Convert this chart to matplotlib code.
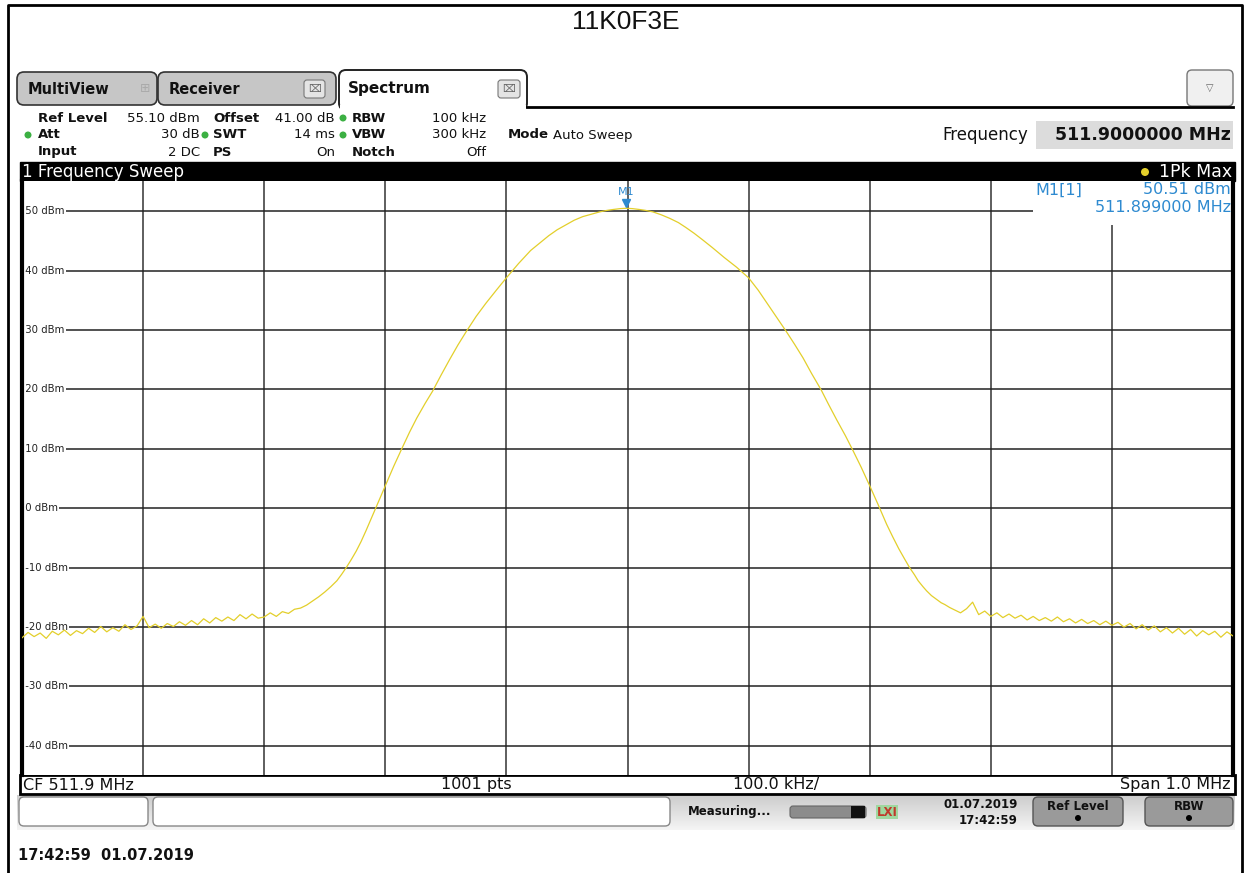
import numpy as np
import matplotlib.pyplot as plt
from matplotlib.patches import Rectangle, FancyBboxPatch, Circle
from matplotlib.transforms import ScaledTranslation

# === Data ===
center_mhz = 511.9
span_mhz = 1.0
ref_level = 55.1
db_per_div = 10
level_ticks = [50, 40, 30, 20, 10, 0, -10, -20, -30, -40]

# noise floor left of the carrier (offset in kHz, level in dBm)
floor_left_khz = np.arange(-500, -274, 5)
floor_left_dbm = [-21.8, -20.9, -21.6, -21.0, -21.9, -20.7, -21.3, -20.5, -21.4, -20.6,
                  -21.1, -20.2, -20.9, -19.9, -20.8, -20.1, -20.7, -19.6, -20.4, -19.8,
                  -18.2, -20.1, -19.5, -20.2, -19.4, -19.9, -19.1, -19.7, -18.9, -19.6,
                  -18.6, -19.3, -18.4, -19.0, -18.3, -18.9, -17.9, -18.6, -17.8, -18.5,
                  -18.3, -17.6, -18.2, -17.4, -17.7, -17.0]

# modulated carrier
skirt_khz = [-270, -265, -260, -255, -250, -245, -240, -236, -232, -228, -224, -220,
             -216, -212, -208, -204, -200, -193, -186, -180, -174, -167, -161, -154,
             -147, -140, -133, -125, -117, -108, -100, -90, -80, -71, -65, -58, -51,
             -44, -37, -30, -23, -17, -12, -6, -1, 4, 10, 15, 21, 28, 35, 42, 48, 55,
             62, 70, 80, 90, 100, 108, 115, 123, 131, 138, 145, 152, 160, 166, 173,
             180, 186, 193, 200, 207, 214, 219, 224, 229, 233, 237, 240, 244, 247,
             251, 255, 259, 262, 266, 269]
skirt_dbm = [-16.8, -16.3, -15.6, -14.9, -14.1, -13.2, -12.2, -11.1, -9.9, -8.6, -7.2,
             -5.6, -3.8, -1.9, 0.0, 1.9, 3.8, 7.1, 10.2, 12.8, 15.2, 17.7, 19.7, 22.4,
             25.0, 27.5, 29.8, 32.3, 34.5, 36.8, 38.8, 41.2, 43.4, 44.9, 45.9, 46.9,
             47.7, 48.5, 49.1, 49.5, 49.9, 50.15, 50.3, 50.45, 50.51, 50.45, 50.3,
             50.15, 49.9, 49.4, 48.8, 48.1, 47.3, 46.3, 45.2, 43.9, 42.2, 40.6, 38.8,
             36.7, 34.6, 32.2, 29.8, 27.6, 25.3, 22.7, 19.9, 17.5, 14.8, 12.2, 9.8,
             6.9, 3.8, 0.6, -2.7, -4.8, -6.8, -8.6, -10.0, -11.2, -12.2, -13.2, -13.9,
             -14.7, -15.3, -15.9, -16.2, -16.7, -17.0]

# noise floor right of the carrier
floor_right_khz = np.arange(275, 501, 5)
floor_right_dbm = [-17.6, -16.9, -15.8, -17.9, -17.3, -18.2, -17.6, -18.4, -17.8, -18.5,
                   -18.0, -18.8, -18.2, -18.9, -18.4, -19.0, -18.3, -19.1, -18.6, -19.3,
                   -18.7, -19.4, -18.9, -19.6, -19.0, -19.7, -19.2, -20.0, -19.4, -20.3,
                   -19.6, -20.5, -19.8, -20.8, -20.1, -21.0, -20.2, -21.2, -20.4, -21.5,
                   -20.6, -21.3, -20.7, -21.7, -20.8, -21.5]

mk_freq = 511.899
mk_level = 50.51

# === Figure ===
W, H = 1245, 873
UI = 'DejaVu Sans'
YEL = '#e3cf2b'
BLUE = '#2e8ad0'
GREEN = '#3cb043'

fig = plt.figure(figsize=(W / 100, H / 100), dpi=100)
bg = fig.add_axes([0, 0, 1, 1])
bg.set_xlim(0, W)
bg.set_ylim(H, 0)
bg.axis('off')


def rbox(x, y, w, h, fc, ec='#444444', lw=1.0, r=6, z=1):
    bg.add_patch(FancyBboxPatch((x, y), w, h, boxstyle=f'round,pad=0,rounding_size={r}',
                                fc=fc, ec=ec, lw=lw, zorder=z))


def txt(x, y, s, size=9.5, ha='left', bold=False, color='#111111', family=UI, z=5):
    bg.text(x, y, s, fontsize=size, ha=ha, va='center', color=color, family=family,
            fontweight='bold' if bold else 'normal', zorder=z)


# page border and title
bg.plot([8, 8, 1242, 1242], [873, 5, 5, 873], color='black', lw=2)
txt(626, 22, '11K0F3E', size=19, ha='center', family='Liberation Sans')

# tabs
rbox(17, 72, 140, 33, '#c6c6c6', ec='#333333', lw=1.2, r=7)
txt(28, 90, 'MultiView', size=10.5, bold=True)
txt(145, 89, '\u229e', size=9, ha='center', color='#aaaaaa')
rbox(158, 72, 178, 33, '#c6c6c6', ec='#333333', lw=1.2, r=7)
txt(169, 90, 'Receiver', size=10.5, bold=True)
rbox(304, 80, 21, 18, '#e4e4e4', ec='#777777', lw=0.8, r=3, z=2)
txt(314.5, 89, '\u2327', size=8, ha='center', color='#666666')
rbox(339, 70, 188, 40, 'white', ec='#222222', lw=1.4, r=7)
txt(348, 88, 'Spectrum', size=11, bold=True)
rbox(498, 80, 22, 18, '#e4e4e4', ec='#777777', lw=0.8, r=3, z=2)
txt(509, 89, '\u2327', size=8, ha='center', color='#666666')
bg.add_patch(Rectangle((340, 105), 186, 8, fc='white', ec='none', zorder=2))
bg.plot([527, 1233], [107, 107], color='black', lw=2, zorder=2)
rbox(1187, 70, 46, 36, '#f0f0f0', ec='#777777', lw=1, r=5)
txt(1210, 88, '\u25bd', size=7, ha='center', color='#666666')

# header settings
rows = [118, 135, 152]
txt(38, rows[0], 'Ref Level', bold=True); txt(200, rows[0], '55.10 dBm', ha='right')
txt(38, rows[1], 'Att', bold=True); txt(200, rows[1], '30 dB', ha='right')
txt(38, rows[2], 'Input', bold=True); txt(200, rows[2], '2 DC', ha='right')
txt(213, rows[0], 'Offset', bold=True); txt(335, rows[0], '41.00 dB', ha='right')
txt(213, rows[1], 'SWT', bold=True); txt(335, rows[1], '14 ms', ha='right')
txt(213, rows[2], 'PS', bold=True); txt(335, rows[2], 'On', ha='right')
txt(352, rows[0], 'RBW', bold=True); txt(486, rows[0], '100 kHz', ha='right')
txt(352, rows[1], 'VBW', bold=True); txt(486, rows[1], '300 kHz', ha='right')
txt(352, rows[2], 'Notch', bold=True); txt(486, rows[2], 'Off', ha='right')
txt(508, rows[1], 'Mode', bold=True); txt(553, rows[1], 'Auto Sweep')
for cx, cy in [(28, rows[1]), (205, rows[1]), (343, rows[0]), (343, rows[1])]:
    bg.add_patch(Circle((cx, cy), 3.5, fc=GREEN, ec='none', zorder=3))
txt(942, 135, 'Frequency', size=12)
bg.add_patch(Rectangle((1036, 121), 197, 28, fc='#dcdcdc', ec='none', zorder=1))
txt(1231, 135, '511.9000000 MHz', size=12.5, ha='right', bold=True)

# sweep title bar and frame
bg.add_patch(Rectangle((20, 162), 1215, 19, fc='black', ec='black', zorder=1))
txt(22, 172, '1 Frequency Sweep', size=12, color='white')
bg.add_patch(Circle((1145, 172), 4, fc=YEL, ec='none', zorder=3))
txt(1232, 172, '1Pk Max', size=12.5, ha='right', color='white')
bg.add_patch(Rectangle((20, 775), 1215, 19, fc='white', ec='black', lw=2, zorder=1))
txt(23, 785, 'CF 511.9 MHz', size=11.5)
txt(476, 785, '1001 pts', size=11.5, ha='center')
txt(776, 785, '100.0 kHz/', size=11.5, ha='center')
txt(1231, 785, 'Span 1.0 MHz', size=11.5, ha='right')

# status bar (light grey gradient)
shade = np.linspace(0.80, 0.96, 40)
grad = np.repeat(shade[:, None, None], 3, axis=2)
bg.imshow(grad, extent=(17, 1235, 830, 795), aspect='auto', zorder=0)
rbox(19, 797, 129, 29, 'white', ec='#888888', lw=1, r=5)
rbox(153, 797, 517, 29, 'white', ec='#888888', lw=1, r=5)
txt(688, 812, 'Measuring...', size=8.5, bold=True)
rbox(790, 806, 76, 12, '#8c8c8c', ec='#666666', lw=0.8, r=3)
bg.add_patch(Rectangle((851, 806), 14, 12, fc='#111111', ec='none', zorder=2))
bg.add_patch(Rectangle((876, 805), 22, 14, fc='#9fd89f', ec='none', zorder=2))
txt(887, 812, 'LXI', size=8.5, ha='center', bold=True, color='#c0392b')
txt(1018, 804, '01.07.2019', size=8.5, ha='right', bold=True)
txt(1018, 820, '17:42:59', size=8.5, ha='right', bold=True)
for bx, bw, lab in [(1033, 90, 'Ref Level'), (1145, 88, 'RBW')]:
    rbox(bx, 797, bw, 29, '#9a9a9a', ec='#555555', lw=1, r=5)
    txt(bx + bw / 2, 806, lab, size=8.5, ha='center', bold=True)
    bg.add_patch(Circle((bx + bw / 2, 818), 3, fc='black', ec='none', zorder=3))

txt(18, 855, '17:42:59  01.07.2019', size=10.5, bold=True)

# === Spectrum axes ===
ax = fig.add_axes([22 / W, 1 - 775 / H, 1211 / W, 594 / H])
ax.set_zorder(2)
ax.set_xlim(center_mhz - span_mhz / 2, center_mhz + span_mhz / 2)
ax.set_ylim(ref_level - 10 * db_per_div, ref_level)
ax.set_xticks([])
ax.set_yticks([])
for side in ['top', 'bottom']:
    ax.spines[side].set_visible(False)
for side in ['left', 'right']:
    ax.spines[side].set_linewidth(3)

for f in center_mhz + np.arange(-4, 5) * span_mhz / 10:
    ax.axvline(f, color='#333333', lw=1.1, zorder=1)
for lv in level_ticks:
    ax.axhline(lv, color='#222222', lw=1.1, zorder=1)
    ax.text(0.0, lv, f' {lv} dBm', transform=ax.get_yaxis_transform(), fontsize=7.3,
            family=UI, color='#222222', va='center', ha='left', zorder=2,
            bbox=dict(fc='white', ec='none', pad=1.0))

freqs = center_mhz + np.concatenate([floor_left_khz, skirt_khz, floor_right_khz]) / 1000
levels = np.concatenate([floor_left_dbm, skirt_dbm, floor_right_dbm])
ax.plot(freqs, levels, color=YEL, lw=0.9, zorder=3)

# marker
ax.add_patch(Rectangle((0.835, 0.926), 0.17, 0.08, transform=ax.transAxes,
                       fc='white', ec='none', zorder=1.5))
ax.plot([mk_freq], [mk_level], marker='v', ms=6, color=BLUE, zorder=4,
        transform=ax.transData + ScaledTranslation(0, 5 / 100, fig.dpi_scale_trans))
ax.annotate('M1', xy=(mk_freq, mk_level), xytext=(0, 12), textcoords='offset points',
            ha='center', va='center', fontsize=8, family=UI, color=BLUE, zorder=4)
ax.text(0.8365, 0.985, 'M1[1]', transform=ax.transAxes, fontsize=11.5, family=UI,
        color=BLUE, va='center', zorder=4)
ax.text(0.9985, 0.985, f'{mk_level:.2f} dBm', transform=ax.transAxes, fontsize=11.5,
        family=UI, color=BLUE, va='center', ha='right', zorder=4)
ax.text(0.9985, 0.956, f'{mk_freq:.6f} MHz', transform=ax.transAxes, fontsize=11.5,
        family=UI, color=BLUE, va='center', ha='right', zorder=4)

fig.savefig('out.png', dpi=100)
